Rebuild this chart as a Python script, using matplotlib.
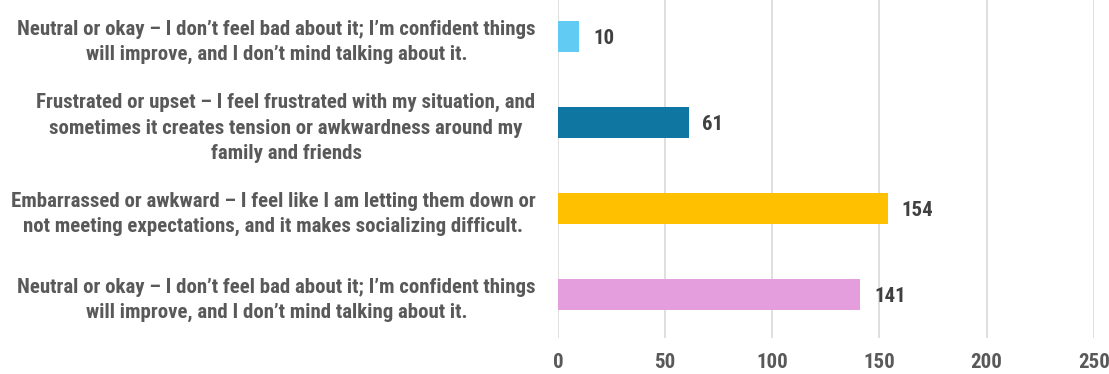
import matplotlib.pyplot as plt

# survey answers, top to bottom
labels = [
    "Neutral or okay \u2013 I don\u2019t feel bad about it; I\u2019m confident things\nwill improve, and I don\u2019t mind talking about it.",
    "Frustrated or upset \u2013 I feel frustrated with my situation, and\nsometimes it creates tension or awkwardness around my\nfamily and friends",
    "Embarrassed or awkward \u2013 I feel like I am letting them down or\nnot meeting expectations, and it makes socializing difficult.",
    "Neutral or okay \u2013 I don\u2019t feel bad about it; I\u2019m confident things\nwill improve, and I don\u2019t mind talking about it.",
]
counts = [10, 61, 154, 141]
colors = ["#61CBF3", "#0E76A0", "#FFC000", "#E49EDD"]
xticks = [0, 50, 100, 150, 200, 250]

plt.rcParams['font.family'] = ['Roboto Condensed', 'IBM Plex Sans Condensed',
                               'Encode Sans Semi Condensed', 'DejaVu Sans']

fig = plt.figure(figsize=(11.09, 3.74), dpi=100)
ax = fig.add_axes([0.503, 0.0963, 0.4833, 0.92])

pos = list(range(len(counts)))
bars = ax.barh(pos, counts, height=0.36, color=colors, zorder=3)
ax.set_ylim(len(counts) - 0.5, -0.5)
ax.set_xlim(0, 250)

for b, v in zip(bars, counts):
    ax.annotate(str(v), (b.get_width(), b.get_y() + b.get_height() / 2),
                xytext=(10, -1), textcoords='offset points', va='center', ha='left',
                fontsize=15, fontweight='bold', color='#404040')

ax.set_yticks(pos)
ax.set_yticklabels(labels, fontsize=15, fontweight='bold', color='#595959',
                   multialignment='center', linespacing=1.42)
ax.tick_params(axis='y', length=0, pad=16)

ax.set_xticks(xticks)
ax.set_xticklabels([str(t) for t in xticks], fontsize=15, fontweight='bold', color='#595959')
ax.tick_params(axis='x', length=0, pad=11)

ax.grid(axis='x', color='#D9D9D9', linewidth=1.2, zorder=0)
for s in ax.spines.values():
    s.set_visible(False)

fig.savefig('out.png', dpi=100)
